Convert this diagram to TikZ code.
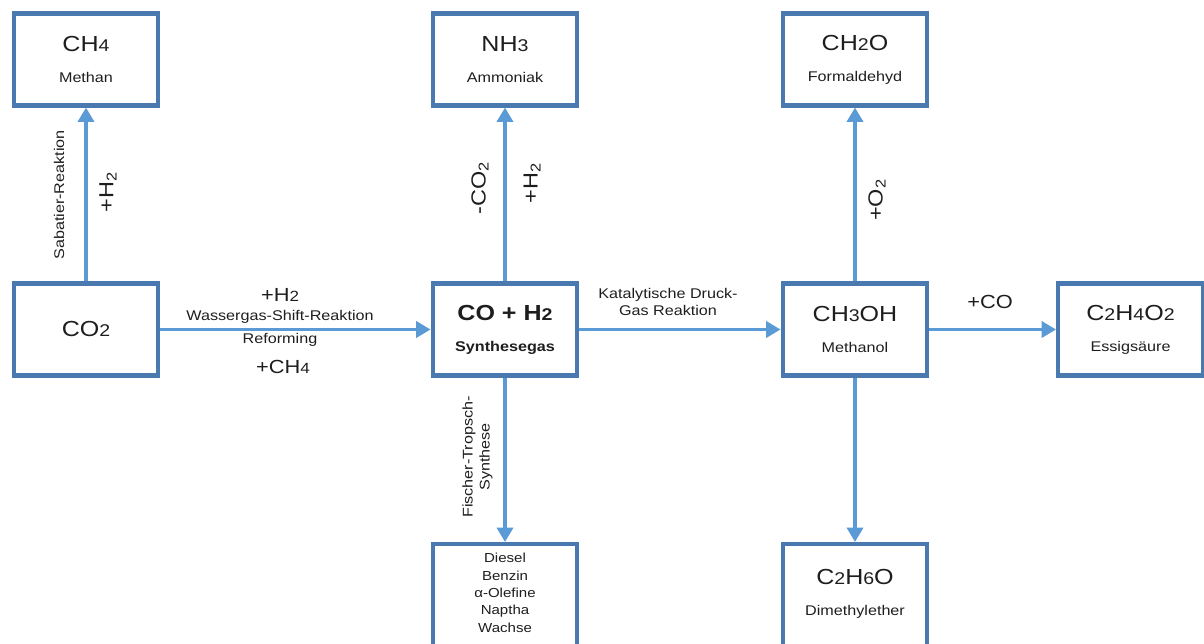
\documentclass[tikz,border=0pt]{standalone}
\usepackage{fontspec}
\setmainfont{Liberation Sans}[FakeStretch=1.15]
\usepackage{graphicx}
\usetikzlibrary{arrows.meta, calc, positioning}
\definecolor{boxBlue}{HTML}{4A79B0}
\definecolor{arrBlue}{HTML}{5B9BD5}
\definecolor{txtGrey}{HTML}{1E1E1E}
% smaller digits on the baseline, as in the formulas of the boxes
\newcommand{\dg}[1]{\scalebox{0.78}{#1}}
\newcommand{\chem}[2]{#1\\[4pt]{\fontsize{10}{12}\selectfont #2}}
\tikzset{
  every picture/.append style = {x=0.025cm, y=0.025cm},
  chembox/.style = {draw=boxBlue, line width=2.9pt, minimum width=3.62cm,
                    minimum height=2.3cm, align=center, text=txtGrey,
                    inner sep=0pt, font=\fontsize{15.5}{18}\selectfont},
  flow/.style    = {-{Triangle[length=3.6mm, width=4mm]}, arrBlue, line width=2.6pt},
  lbl/.style     = {text=txtGrey, align=center, font=\fontsize{10}{12}\selectfont},
  plus/.style    = {text=txtGrey, font=\fontsize{13.5}{15}\selectfont},
}

\begin{document}
\begin{tikzpicture}[
    plusr/.style={plus, rotate=90, font=\fontsize{14.5}{16}\selectfont},
    lblr/.style={lbl, rotate=90}]
  \useasboundingbox (0,0) rectangle (1204,644);
  % substance boxes
  \node[chembox] (ch4) at (86,584.5) {\chem{CH\dg{4}}{Methan}};
  \node[chembox] (co2) at (86,314.5) {CO\dg{2}};
  \node[chembox] (nh3) at (505,584.5) {\chem{NH\dg{3}}{Ammoniak}};
  \node[chembox, font=\fontsize{15.5}{18}\selectfont\bfseries] (syn) at (505,314.5)
    {\chem{CO + H\dg{2}}{Synthesegas}};
  \node[chembox] (ch2o) at (855,584.5) {\chem{CH\dg{2}O}{Formaldehyd}};
  \node[chembox] (meoh) at (855,314.5) {\chem{CH\dg{3}OH}{Methanol}};
  \node[chembox] (acid) at (1130.5,314.5) {\chem{C\dg{2}H\dg{4}O\dg{2}}{Essigsäure}};
  % lower boxes run past the bottom edge
  \node[chembox, anchor=north, minimum height=3.5cm] (fts) at (505,102) {};
  \node[lbl, font=\fontsize{9.3}{12.4}\selectfont] (ftsprod) at ([yshift=-1.27cm]fts.north)
    {Diesel\\Benzin\\α-Olefine\\Naptha\\Wachse};
  \node[chembox, anchor=north, minimum height=3.5cm] (dme) at (855,102) {};
  \node[align=center, text=txtGrey, font=\fontsize{15.5}{18}\selectfont] (dmetxt)
    at ([yshift=-1.29cm]dme.north) {\chem{C\dg{2}H\dg{6}O}{Dimethylether}};
  % reactions
  \draw[flow] (co2) -- (ch4);
  \draw[flow] (co2) -- (syn);
  \draw[flow] (syn) -- (nh3);
  \draw[flow] (syn) -- (fts);
  \draw[flow] (syn) -- (meoh);
  \draw[flow] (meoh) -- (ch2o);
  \draw[flow] (meoh) -- (acid);
  \draw[flow] (meoh) -- (dme);
  % reaction labels
  \node[lblr] (sabatier) at (59,449) {Sabatier-Reaktion};
  \node[plusr] (h2a) at (108,452) {+H\textsubscript{2}};
  \node[plus] (h2b) at (280,349) {+H\dg{2}};
  \node[lbl] (wgs) at (280,327) {Wassergas-Shift-Reaktion};
  \node[lbl] (reform) at (280,304) {Reforming};
  \node[plus] (ch4b) at (283,277) {+CH\dg{4}};
  \node[plusr] (co2m) at (480,456) {-CO\textsubscript{2}};
  \node[plusr] (h2c) at (532,461) {+H\textsubscript{2}};
  \node[lbl] (kat) at (668,342) {Katalytische Druck-\\Gas Reaktion};
  \node[plusr] (o2) at (877,444) {+O\textsubscript{2}};
  \node[plus] (cop) at (990,342) {+CO};
  \node[lblr] (fischer) at (477.5,187) {Fischer-Tropsch-\\Synthese};
\end{tikzpicture}
\end{document}
